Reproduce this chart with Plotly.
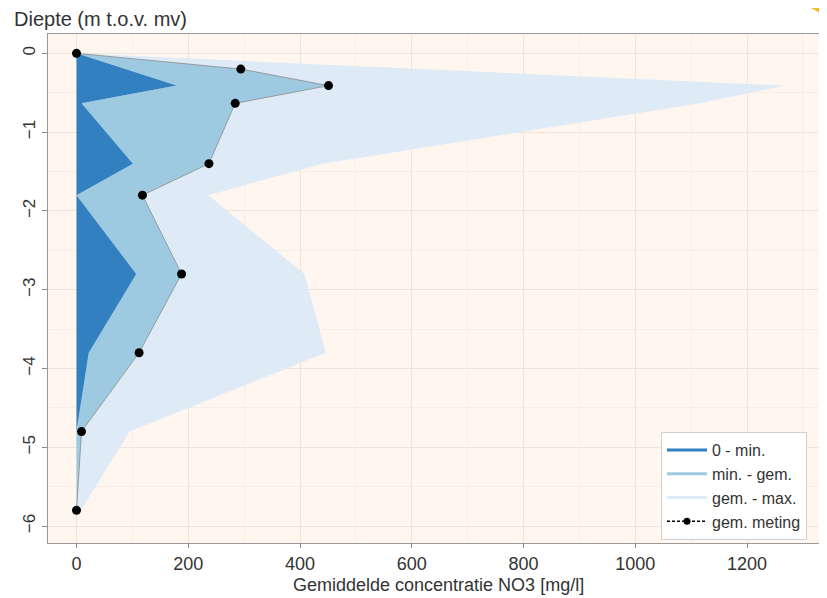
import plotly.graph_objects as go

# Depth levels (m t.o.v. mv)
depth = [0, -0.2, -0.41, -0.635, -1.4, -1.8, -2.8, -3.8, -4.8, -5.8]
# NO3 concentrations (mg/l)
conc_min = [0, 88, 179, 9, 101, 0, 107, 22, 0, 0]
conc_gem = [0, 294, 451, 284, 237, 118, 188, 112, 9, 0]
conc_max = [0, 626, 1268, 1116, 441, 236, 408, 446, 95, 8]
zero_line = [0] * len(depth)

legend_names = ["0 - min.", "min. - gem.", "gem. - max.", "gem. meting"]
c_dark = "#3380c0"
c_mid = "#9ecae1"
c_light = "#deebf7"

FONT = "Liberation Sans, Arial, sans-serif"

# page body has an 8px default margin: work in screen pixels and convert
OFF = 8
FW, FH = 827 - OFF, 598 - OFF
L, R, T, B = 48 - OFF, 827 - OFF, 34 - OFF, 543 - OFF
PW, PH = R - L, B - T

def px(xs):
    return (xs - OFF - L) / PW

def py(ys):
    return (B - (ys - OFF)) / PH

fig = go.Figure()

def band(x_lo, x_hi, color, line_color=None):
    xs = list(x_hi) + list(reversed(x_lo))
    ys = list(depth) + list(reversed(depth))
    fig.add_trace(go.Scatter(x=xs, y=ys, mode="lines", fill="toself",
                             fillcolor=color,
                             line=dict(width=0 if line_color is None else 0.8,
                                       color=line_color or color),
                             showlegend=False, hoverinfo="skip"))

band(conc_gem, conc_max, c_light)
band(conc_min, conc_gem, c_mid)
band(zero_line, conc_min, c_dark)

# measured points
fig.add_trace(go.Scatter(x=conc_gem, y=depth, mode="lines+markers",
                         line=dict(color="#8a8a8a", width=0.8),
                         marker=dict(color="black", size=9),
                         showlegend=False, hoverinfo="skip"))

# legend entries
for name, col in zip(legend_names[:3], [c_dark, c_mid, c_light]):
    fig.add_trace(go.Scatter(x=[None], y=[None], mode="lines", name=name,
                             line=dict(color=col, width=3)))
fig.add_trace(go.Scatter(x=[None], y=[None], mode="lines+markers", name=legend_names[3],
                         line=dict(color="black", width=1.5, dash="3px,2px"),
                         marker=dict(color="black", size=7)))

x_ticks = [0, 200, 400, 600, 800, 1000, 1200]
y_ticks = [0, -1, -2, -3, -4, -5, -6]

fig.update_layout(
    width=FW, height=FH,
    margin=dict(l=L, r=FW - R, t=T, b=FH - B, autoexpand=False),
    paper_bgcolor="white",
    plot_bgcolor="#fef6ef",
    font=dict(family=FONT, size=17, color="#333333"),
    xaxis=dict(range=[-51, 1343], tickvals=x_ticks, ticks="outside", ticklen=4,
               tickcolor="#888888", showline=True, linecolor="#9a9a9a", linewidth=1.2,
               mirror=True, gridcolor="#efe4da", gridwidth=1.2, zeroline=False,
               automargin=False,
               minor=dict(dtick=100, showgrid=True, gridcolor="#f7ede5", gridwidth=1),
               tickfont=dict(size=18, color="#333333")),
    yaxis=dict(range=[-6.214, 0.245], tickvals=y_ticks, ticks="outside", ticklen=5,
               tickcolor="#888888", showline=True, linecolor="#9a9a9a", linewidth=1.2,
               mirror=False, gridcolor="#efe4da", gridwidth=1.2, zeroline=False,
               automargin=False,
               minor=dict(dtick=0.5, showgrid=True, gridcolor="#f7ede5", gridwidth=1),
               tickangle=-90, tickfont=dict(size=17, color="#333333")),
    legend=dict(x=px(661), y=py(432), xanchor="left", yanchor="top",
                bgcolor="white", bordercolor="#d0d0d0", borderwidth=1,
                font=dict(size=16, color="#333333"), tracegroupgap=0,
                itemwidth=40),
    annotations=[
        dict(text="Diepte (m t.o.v. mv)", x=px(12), y=py(19), xref="paper", yref="paper",
             xanchor="left", yanchor="middle", showarrow=False,
             font=dict(size=20, color="#333333")),
        dict(text="Gemiddelde concentratie NO3 [mg/l]", x=px(438), y=py(585),
             xref="paper", yref="paper", xanchor="center", yanchor="middle",
             showarrow=False, font=dict(size=18, color="#333333")),
    ],
    shapes=[dict(type="path", xref="paper", yref="paper",
                 path="M %f %f L %f %f L %f %f Z" % (px(797), py(0), px(827), py(0),
                                                    px(827), py(17)),
                 fillcolor="#f8b824", line=dict(width=0), layer="above")],
)

fig.write_html("out.html")
